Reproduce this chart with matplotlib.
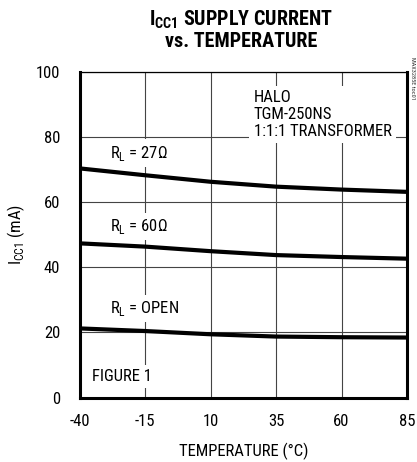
import matplotlib
matplotlib.use("Agg")
import matplotlib.pyplot as plt
from matplotlib import font_manager

names = {f.name for f in font_manager.fontManager.ttflist}
FONT = next((n for n in ["Roboto Condensed", "Archivo Narrow", "PT Sans Narrow", "Liberation Sans Narrow"] if n in names), "DejaVu Sans")
plt.rcParams['font.family'] = [FONT, 'DejaVu Sans']
plt.rcParams['font.stretch'] = 'condensed'
plt.rcParams['mathtext.fontset'] = 'custom'
plt.rcParams['mathtext.rm'] = FONT
plt.rcParams['mathtext.bf'] = FONT + ':bold'

# Data
temps = [-40, -15, 10, 35, 60, 85]
rl27 = [70.3, 68.2, 66.2, 64.7, 63.8, 63.1]
rl60 = [47.3, 46.3, 44.9, 43.7, 43.1, 42.6]
rlopen = [21.2, 20.4, 19.4, 18.7, 18.5, 18.4]
xticks = [-40, -15, 10, 35, 60, 85]
xticklabels = ['-40', '-15', '10', '35', '60', '85']
yticks = [0, 20, 40, 60, 80, 100]

fig = plt.figure(figsize=(4.17, 4.62), dpi=100)
ax = fig.add_axes([0.191, 0.1396, 0.785, 0.7054])

ax.set_xlim(-40, 85)
ax.set_ylim(0, 100)
ax.set_xticks(xticks)
ax.set_yticks(yticks)
ax.set_xticklabels(xticklabels)
ax.tick_params(length=0, labelsize=12)
ax.tick_params(axis='x', pad=12)
ax.tick_params(axis='y', pad=14)
ax.grid(True, color='#444444', linewidth=0.8, zorder=1)
for s in ['left', 'right', 'bottom']:
    ax.spines[s].set_linewidth(2.2)
ax.spines['top'].set_linewidth(0.9)

for ys in (rl27, rl60, rlopen):
    ax.plot(temps, ys, color='black', linewidth=3.0, solid_capstyle='butt', zorder=3)

FS = 12
bbox = dict(facecolor='white', edgecolor='none', pad=3)
ax.text(-28.6, 75, r'R$_{\mathregular{L}}$ = 27$\Omega$', fontsize=FS, va='center', ha='left', bbox=bbox, zorder=4)
ax.text(-28.6, 52.4, r'R$_{\mathregular{L}}$ = 60$\Omega$', fontsize=FS, va='center', ha='left', bbox=bbox, zorder=4)
ax.text(-28.6, 27.4, r'R$_{\mathregular{L}}$ = OPEN', fontsize=FS, va='center', ha='left', bbox=bbox, zorder=4)
ax.text(-35.2, 6.4, 'FIGURE 1', fontsize=FS, va='center', ha='left', bbox=bbox, zorder=4)
ax.text(26.4, 86.8, 'HALO\nTGM-250NS\n1:1:1 TRANSFORMER', fontsize=FS, va='center', ha='left',
        linespacing=1.15, bbox=dict(facecolor='white', edgecolor='none', pad=3), zorder=4)

ax.set_xlabel('TEMPERATURE (°C)', fontsize=FS, labelpad=10)
ax.set_ylabel(r'I$_{\mathregular{CC1}}$ (mA)', fontsize=FS, labelpad=6)

fig.text(0.578, 0.935, r'I$_{\mathbf{CC1}}$ SUPPLY CURRENT' + '\nvs. TEMPERATURE', fontsize=14.5,
         fontweight='bold', ha='center', va='center', linespacing=1.05)
fig.text(0.99, 0.83, 'MAX3285E toc01', fontsize=4.5, rotation=270, ha='center', va='center', color='#333333')

fig.savefig('out.png', dpi=100)
